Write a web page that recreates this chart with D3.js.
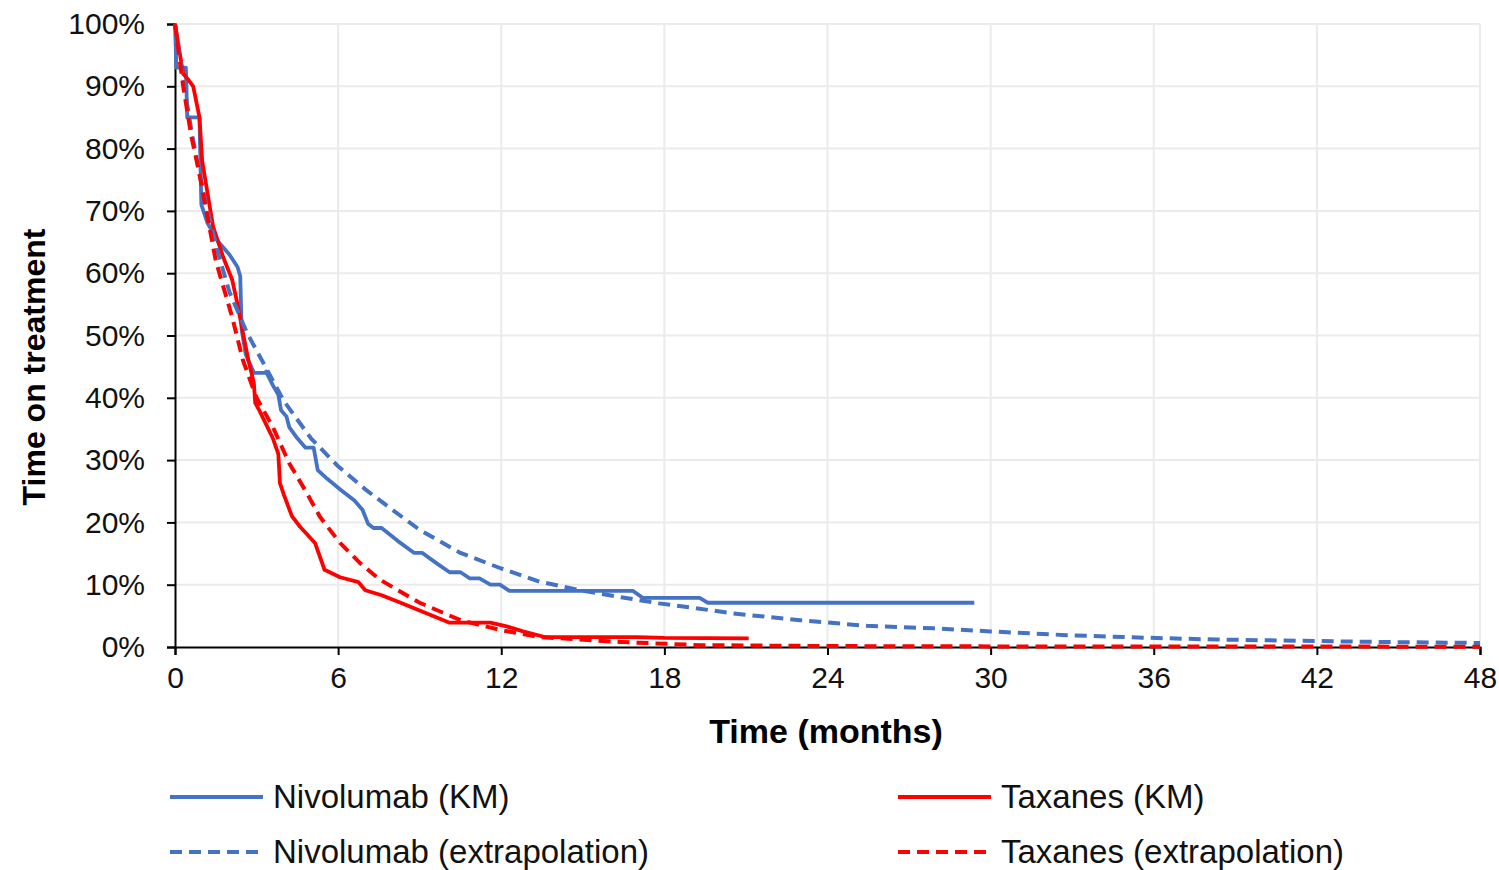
<!DOCTYPE html>
<html>
<head>
<meta charset="utf-8">
<script src="https://cdn.jsdelivr.net/npm/d3@7"></script>
<style>
  html, body { margin: 0; padding: 0; background: #fff; }
  svg { display: block; font-family: "Liberation Sans", Arial, sans-serif; }
</style>
</head>
<body>
<svg id="chart" width="1499" height="870"></svg>
<script>
// ---------- data (time in months, % on treatment) ----------
const nivoKmTime = [0,0.05,0.4,0.45,0.9,0.97,1.2,1.6,2.0,2.3,2.4,2.45,2.6,2.9,3.3,3.35,3.6,3.8,3.9,4.1,4.2,4.5,4.8,5.1,5.25,5.6,6.1,6.6,6.9,7.1,7.3,7.6,8.2,8.8,9.1,9.6,10.1,10.5,10.85,11.2,11.6,11.95,12.3,16.85,17.2,19.3,19.6,29.4];
const nivoKmPct  = [100,93,93,85,85,71,68,65,63,61,59.5,51,47,44,44,44.2,42,40.5,38,37,35.3,33.5,32,32,28.4,27,25.2,23.5,22,19.8,19.1,19.1,17,15.1,15.1,13.5,12,12,11,11,10,10,9,9,7.9,7.9,7.1,7.1];

const taxKmTime = [0,0.3,0.5,0.67,0.9,1.0,1.4,1.77,2.1,2.3,2.5,2.7,2.9,2.95,3.1,3.4,3.6,3.8,3.86,4.0,4.3,4.6,5.15,5.5,6.07,6.75,7.0,7.6,8.3,9.2,10.1,11.6,12.2,12.8,13.6,17,18,21.1];
const taxKmPct  = [100,92,91,90,85,78,67.5,62.6,59,55,50.4,46,42.4,39.2,38,35.3,33.5,31,26.3,24.5,21,19.3,16.7,12.4,11.2,10.4,9.1,8.3,7.1,5.5,3.9,3.9,3.3,2.5,1.6,1.6,1.45,1.4];

const nivoExTime = [0,0.3,0.6,0.85,1.2,1.6,2.0,2.65,3.2,4,5,6,7,8,9,10.5,12,13.4,14.9,16.4,17.8,19.05,20.5,23,25.45,27.9,30,32.8,35.6,38.3,41.4,44.4,48];
const nivoExPct  = [100,91,83,77,70,63,57,50.4,46,39.5,33.5,29,25.3,22,18.8,15.1,12.6,10.5,9.1,8,7,6.3,5.4,4.3,3.4,3,2.5,1.9,1.5,1.2,1.0,0.8,0.65];

const taxExTime = [0,0.3,0.6,0.85,1.5,2.1,2.5,3.0,3.6,4.2,4.85,5.33,6.07,6.8,7.54,9.0,10.5,12,13.4,16.4,19.3,24,30,48];
const taxExPct  = [100,90,82,77,62,53,46,40,35.3,29.5,24.7,20.9,16.7,13.5,10.8,7.1,4.3,2.7,1.6,0.8,0.3,0.15,0.1,0.05];

const xTicks = [0,6,12,18,24,30,36,42,48];
const yTicks = [0,10,20,30,40,50,60,70,80,90,100];

const seriesNames = ["Nivolumab (KM)","Taxanes (KM)","Nivolumab (extrapolation)","Taxanes (extrapolation)"];
const BLUE = "#4472C4", RED = "#FF0000";

// ---------- layout ----------
const svg = d3.select("#chart");
const L = 175, R = 1480, T = 24, B = 647;
const x = d3.scaleLinear().domain([0,48]).range([L,R]);
const y = d3.scaleLinear().domain([0,100]).range([B,T]);

// grid
const grid = svg.append("g");
grid.selectAll("line.h").data(yTicks.filter(d => d > 0)).enter().append("line")
  .attr("x1", L).attr("x2", R).attr("y1", d => y(d)).attr("y2", d => y(d))
  .attr("stroke", "#ebebeb").attr("stroke-width", 2);
grid.selectAll("line.v").data(xTicks.filter(d => d > 0)).enter().append("line")
  .attr("y1", T).attr("y2", B).attr("x1", d => x(d)).attr("x2", d => x(d))
  .attr("stroke", "#ebebeb").attr("stroke-width", 2);

// axes
const yAxis = svg.append("g").attr("transform", `translate(${L},0)`)
  .call(d3.axisLeft(y).tickValues(yTicks).tickFormat(d => d + "%").tickSize(8).tickPadding(22));
const xAxis = svg.append("g").attr("transform", `translate(0,${B})`)
  .call(d3.axisBottom(x).tickValues(xTicks).tickFormat(d3.format("d")).tickSize(8).tickPadding(12));
[yAxis, xAxis].forEach(a => {
  a.select(".domain").attr("stroke", "#000").attr("stroke-width", 2);
  a.selectAll(".tick line").attr("stroke", "#000").attr("stroke-width", 2);
  a.selectAll(".tick text").attr("fill", "#111").style("font-size", "30px")
    .style("font-family", '"Liberation Sans", Arial, sans-serif');
});

// axis titles
svg.append("text").attr("x", 826).attr("y", 743).attr("text-anchor", "middle")
  .style("font-size", "34px").style("font-weight", "bold").attr("fill", "#000")
  .text("Time (months)");
svg.append("text").attr("transform", "translate(45,367) rotate(-90)").attr("text-anchor", "middle")
  .style("font-size", "32px").style("font-weight", "bold").attr("fill", "#000")
  .text("Time on treatment");

// lines
const line = d3.line().x(d => x(d[0])).y(d => y(d[1]));
const zip = (a, b) => a.map((t, i) => [t, b[i]]);
const series = [
  {data: zip(nivoKmTime, nivoKmPct), color: BLUE, dash: null, w: 3.8},
  {data: zip(taxKmTime, taxKmPct), color: RED, dash: null, w: 3.8},
  {data: zip(nivoExTime, nivoExPct), color: BLUE, dash: "12,7", w: 4},
  {data: zip(taxExTime, taxExPct), color: RED, dash: "12,7", w: 4}
];
svg.append("g").selectAll("path").data(series).enter().append("path")
  .attr("d", d => line(d.data)).attr("fill", "none")
  .attr("stroke", d => d.color).attr("stroke-width", d => d.w)
  .attr("stroke-dasharray", d => d.dash)
  .attr("stroke-linejoin", "round");

// legend
const legPos = [[170, 797], [898, 797], [170, 852], [898, 852]];
const leg = svg.append("g").selectAll("g").data(series).enter().append("g")
  .attr("transform", (d, i) => `translate(${legPos[i][0]},${legPos[i][1]})`);
leg.append("line").attr("x1", 0).attr("x2", 93).attr("y1", 0).attr("y2", 0)
  .attr("stroke", d => d.color).attr("stroke-width", 4)
  .attr("stroke-dasharray", d => d.dash);
leg.append("text").attr("x", 103).attr("y", 11)
  .style("font-size", "33px").attr("fill", "#111")
  .text((d, i) => seriesNames[i]);
</script>
</body>
</html>
